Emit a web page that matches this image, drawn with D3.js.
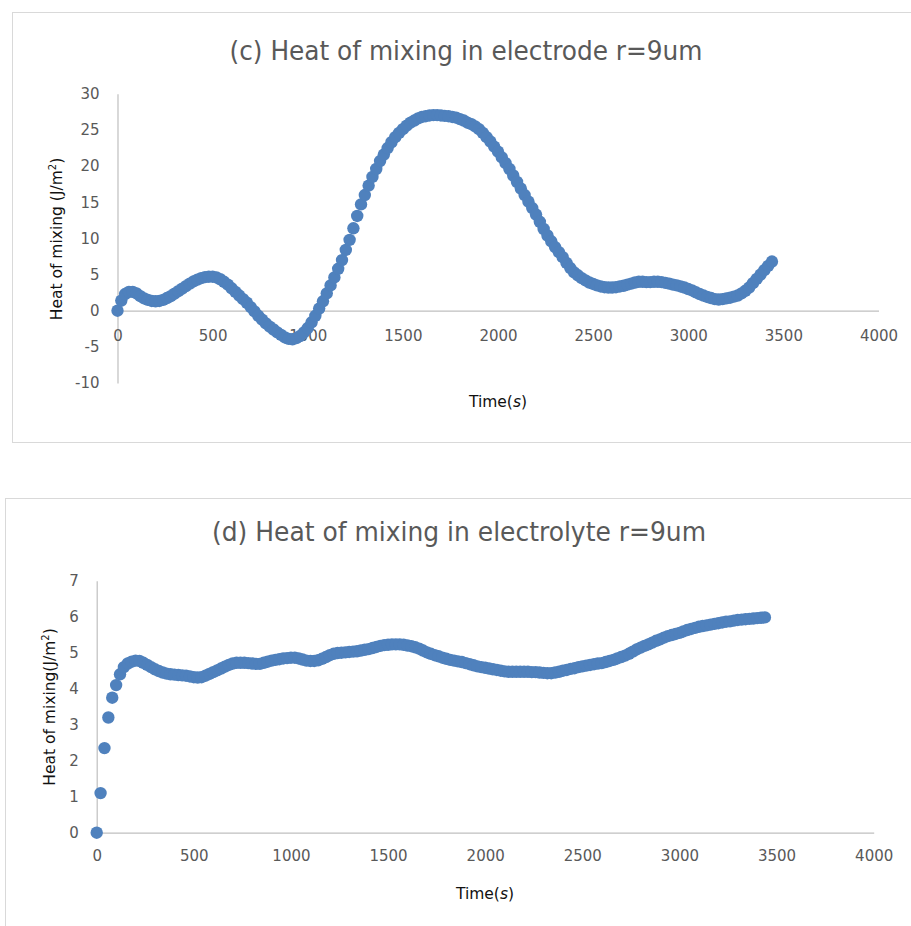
<!DOCTYPE html>
<html>
<head>
<meta charset="utf-8">
<script src="https://cdn.jsdelivr.net/npm/d3@7/dist/d3.min.js"></script>
<style>
  html, body { margin: 0; padding: 0; background: #fff; }
  svg { display: block; }
</style>
</head>
<body>
<svg id="chart" width="911" height="926"></svg>
<script>
// Sample times (s), shared by both simulations
const times = [
  0, 20, 40, 60, 80, 100, 120, 140, 160, 180, 200, 220, 240, 260, 280, 300, 320, 340, 360, 380,
  400, 420, 440, 460, 480, 500, 520, 540, 560, 580, 600, 620, 640, 660, 680, 700, 720, 740, 760, 780,
  800, 820, 840, 860, 880, 900, 920, 940, 960, 980, 1000, 1020, 1040, 1060, 1080, 1100, 1120, 1140, 1160, 1180,
  1200, 1220, 1240, 1260, 1280, 1300, 1320, 1340, 1360, 1380, 1400, 1420, 1440, 1460, 1480, 1500, 1520, 1540, 1560, 1580,
  1600, 1620, 1640, 1660, 1680, 1700, 1720, 1740, 1760, 1780, 1800, 1820, 1840, 1860, 1880, 1900, 1920, 1940, 1960, 1980,
  2000, 2020, 2040, 2060, 2080, 2100, 2120, 2140, 2160, 2180, 2200, 2220, 2240, 2260, 2280, 2300, 2320, 2340, 2360, 2380,
  2400, 2420, 2440, 2460, 2480, 2500, 2520, 2540, 2560, 2580, 2600, 2620, 2640, 2660, 2680, 2700, 2720, 2740, 2760, 2780,
  2800, 2820, 2840, 2860, 2880, 2900, 2920, 2940, 2960, 2980, 3000, 3020, 3040, 3060, 3080, 3100, 3120, 3140, 3160, 3180,
  3200, 3220, 3240, 3260, 3280, 3300, 3320, 3340, 3360, 3380, 3400, 3420, 3440
];

// (c) heat of mixing in the electrode, J/m^2
const heatElectrode = [
  0, 1.4, 2.3, 2.6, 2.6, 2.4, 2.0, 1.7, 1.5, 1.35, 1.3, 1.35, 1.5, 1.75, 2.0, 2.35, 2.7, 3.05, 3.4, 3.75,
  4.05, 4.3, 4.5, 4.65, 4.7, 4.7, 4.6, 4.35, 4.0, 3.6, 3.1, 2.6, 2.1, 1.6, 1.1, 0.5, -0.1, -0.7, -1.25, -1.75,
  -2.2, -2.6, -3.0, -3.35, -3.7, -3.9, -3.95, -3.8, -3.5, -3.0, -2.4, -1.6, -0.7, 0.3, 1.3, 2.4, 3.5, 4.6, 5.8, 7.0,
  8.4, 9.8, 11.4, 13.1, 14.7, 16.0, 17.3, 18.5, 19.6, 20.7, 21.6, 22.5, 23.3, 24.0, 24.6, 25.1, 25.6, 26.0, 26.3, 26.6,
  26.8, 26.9, 27.0, 27.05, 27.05, 27.0, 26.95, 26.9, 26.8, 26.7, 26.5, 26.3, 26.0, 25.8, 25.5, 25.1, 24.6, 24.0, 23.4, 22.7,
  22.0, 21.2, 20.4, 19.6, 18.7, 17.8, 16.9, 16.0, 15.1, 14.2, 13.3, 12.3, 11.3, 10.4, 9.6, 8.8, 8.1, 7.4, 6.6, 5.9,
  5.3, 4.9, 4.5, 4.2, 3.9, 3.7, 3.5, 3.35, 3.25, 3.2, 3.2, 3.25, 3.35, 3.45, 3.6, 3.75, 3.9, 4.0, 4.0, 3.95,
  3.95, 4.0, 4.0, 3.95, 3.85, 3.75, 3.6, 3.5, 3.35, 3.2, 3.0, 2.8, 2.55, 2.3, 2.1, 1.9, 1.75, 1.6, 1.55, 1.6,
  1.7, 1.8, 1.95, 2.1, 2.4, 2.75, 3.2, 3.8, 4.4, 5.0, 5.6, 6.2, 6.8
];

// (d) heat of mixing in the electrolyte, J/m^2
const heatElectrolyte = [
  0, 1.1, 2.35, 3.2, 3.75, 4.1, 4.4, 4.6, 4.7, 4.75, 4.78, 4.77, 4.72, 4.66, 4.6, 4.54, 4.49, 4.45, 4.42, 4.4,
  4.39, 4.38, 4.37, 4.36, 4.34, 4.32, 4.31, 4.32, 4.36, 4.41, 4.46, 4.51, 4.56, 4.61, 4.66, 4.7, 4.72, 4.72, 4.72, 4.71,
  4.7, 4.69, 4.69, 4.72, 4.75, 4.78, 4.8, 4.82, 4.84, 4.85, 4.86, 4.86, 4.84, 4.81, 4.78, 4.77, 4.77, 4.79, 4.83, 4.88,
  4.93, 4.97, 4.99, 5.0, 5.01, 5.02, 5.03, 5.04, 5.06, 5.08, 5.1, 5.13, 5.16, 5.19, 5.21, 5.22, 5.23, 5.23, 5.23, 5.22,
  5.2, 5.18, 5.15, 5.11, 5.06, 5.01, 4.97, 4.93, 4.9, 4.86, 4.83, 4.8, 4.78, 4.76, 4.74, 4.71, 4.68, 4.65, 4.62, 4.6,
  4.58, 4.56, 4.54, 4.52, 4.5, 4.48, 4.47, 4.47, 4.47, 4.47, 4.47, 4.47, 4.46, 4.46, 4.45, 4.44, 4.43, 4.43, 4.45, 4.47,
  4.5, 4.52, 4.55, 4.57, 4.6, 4.62, 4.64, 4.66, 4.68, 4.7, 4.71, 4.74, 4.77, 4.8, 4.84, 4.88, 4.92, 4.97, 5.03, 5.09,
  5.14, 5.19, 5.23, 5.28, 5.33, 5.37, 5.42, 5.46, 5.49, 5.52, 5.55, 5.59, 5.63, 5.66, 5.69, 5.72, 5.74, 5.76, 5.78, 5.8,
  5.82, 5.84, 5.86, 5.87, 5.89, 5.91, 5.92, 5.93, 5.94, 5.95, 5.96, 5.97, 5.98
];

// Axis ticks and texts
const timeTicks = [0, 500, 1000, 1500, 2000, 2500, 3000, 3500, 4000];
const electrodeTicks = [-10, -5, 0, 5, 10, 15, 20, 25, 30];
const electrolyteTicks = [0, 1, 2, 3, 4, 5, 6, 7];
const titleC = "(c) Heat of mixing in electrode r=9um";
const titleD = "(d) Heat of mixing in electrolyte r=9um";

const svg = d3.select("#chart");
const BLUE = "#4F81BD";
const AXIS = "#BFBFBF";
const LABEL = "#595959";
const TICK_FONT = "'DejaVu Sans', sans-serif";
const TITLE_FONT = "'DejaVu Sans Condensed', 'Liberation Sans Narrow', 'DejaVu Sans', sans-serif";
const plain = d => String(d);   // hyphen-minus, as in the spreadsheet labels

function drawPanel(cfg) {
  const g = svg.append("g");

  // chart frame
  g.append("rect")
    .attr("x", cfg.frame[0] + 0.5).attr("y", cfg.frame[1] + 0.5)
    .attr("width", cfg.frame[2]).attr("height", cfg.frame[3])
    .attr("fill", "#fff").attr("stroke", "#D9D9D9").attr("stroke-width", 1);

  const x = d3.scaleLinear().domain([0, 4000]).range(cfg.xRange);
  const y = d3.scaleLinear().domain(cfg.yDomain).range(cfg.yRange);

  // title
  g.append("text")
    .attr("x", cfg.titlePos[0]).attr("y", cfg.titlePos[1])
    .attr("text-anchor", "middle")
    .attr("font-family", TITLE_FONT).attr("font-size", 26)
    .attr("textLength", cfg.titleLen).attr("lengthAdjust", "spacingAndGlyphs")
    .attr("fill", LABEL)
    .text(cfg.title);

  // y axis
  const yAxis = g.append("g")
    .attr("transform", `translate(${cfg.xRange[0]},0)`)
    .call(d3.axisLeft(y).tickValues(cfg.yTicks).tickSize(0).tickPadding(18).tickFormat(plain));
  yAxis.select(".domain").attr("stroke", AXIS).attr("stroke-width", 1.2);
  yAxis.selectAll("text")
    .attr("font-family", TICK_FONT).attr("font-size", 15).attr("fill", LABEL);

  // x axis, crossing at zero
  const xAxis = g.append("g")
    .attr("transform", `translate(0,${y(0)})`)
    .call(d3.axisBottom(x).tickValues(timeTicks).tickSize(0).tickPadding(cfg.xPad).tickFormat(plain));
  xAxis.select(".domain").attr("stroke", AXIS).attr("stroke-width", 1.2);
  xAxis.selectAll("text")
    .attr("font-family", TICK_FONT).attr("font-size", 15).attr("fill", LABEL);

  // axis titles
  const yt = g.append("text")
    .attr("transform", `translate(${cfg.yTitlePos[0]},${cfg.yTitlePos[1]}) rotate(-90)`)
    .attr("text-anchor", "middle")
    .attr("font-family", TICK_FONT).attr("font-size", 15.5).attr("fill", "#111");
  yt.append("tspan").text(cfg.yTitle);
  yt.append("tspan").attr("font-size", 10).attr("dy", -6).text("2");
  yt.append("tspan").attr("dy", 6).text(")");

  const xt = g.append("text")
    .attr("x", cfg.xTitlePos[0]).attr("y", cfg.xTitlePos[1])
    .attr("text-anchor", "middle")
    .attr("font-family", TICK_FONT).attr("font-size", 15.5).attr("fill", "#111");
  xt.append("tspan").text("Time(");
  xt.append("tspan").attr("font-style", "italic").text("s");
  xt.append("tspan").text(")");

  // markers
  g.append("g").selectAll("circle")
    .data(times.map((t, i) => [t, cfg.values[i]]))
    .join("circle")
    .attr("cx", d => x(d[0]))
    .attr("cy", d => y(d[1]))
    .attr("r", 6.2)
    .attr("fill", BLUE);
}

drawPanel({
  frame: [12, 12, 920, 430],
  xRange: [117.5, 878.5],
  yDomain: [-10, 30],
  yRange: [383, 93.8],
  yTicks: electrodeTicks,
  xPad: 20,
  values: heatElectrode,
  title: titleC,
  titlePos: [466, 60],
  titleLen: 473,
  yTitle: "Heat of mixing (J/m",
  yTitlePos: [62, 239],
  xTitlePos: [498, 407]
});

drawPanel({
  frame: [5, 498, 920, 440],
  xRange: [96.7, 873.7],
  yDomain: [0, 7],
  yRange: [832.7, 580.7],
  yTicks: electrolyteTicks,
  xPad: 18,
  values: heatElectrolyte,
  title: titleD,
  titlePos: [459, 541],
  titleLen: 494,
  yTitle: "Heat of mixing(J/m",
  yTitlePos: [55, 707],
  xTitlePos: [485, 899]
});
</script>
</body>
</html>
